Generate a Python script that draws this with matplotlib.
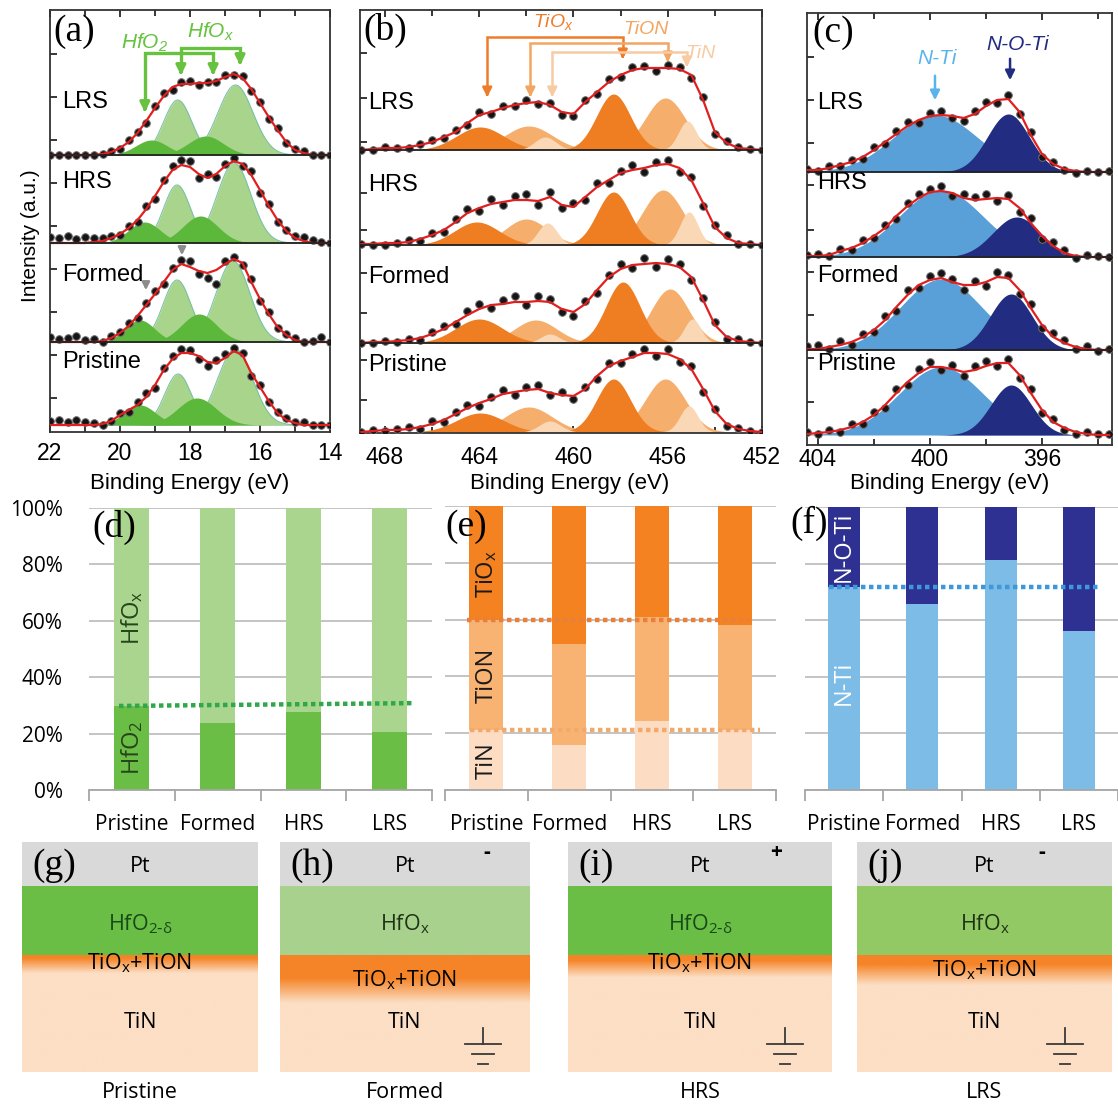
import numpy as np
import matplotlib
matplotlib.use('Agg')
import matplotlib.pyplot as plt

plt.rcParams['mathtext.default'] = 'regular'
plt.rcParams['font.family'] = ['Liberation Sans', 'DejaVu Sans']

SANS = 'Liberation Sans'
CAL = ['Open Sans', 'DejaVu Sans']
SERIF = 'Liberation Serif'

W, H = 1118, 1104

# ---------------- XPS data (heights in a.u. above each spectrum's baseline) ----------------
states_xps = ['LRS', 'HRS', 'Formed', 'Pristine']

# (a) Hf 4f
E_hf = [22.0, 21.75, 21.5, 21.25, 21.0, 20.75, 20.5, 20.25, 20.0, 19.75, 19.5, 19.25, 19.0,
        18.75, 18.5, 18.25, 18.0, 17.75, 17.5, 17.25, 17.0, 16.75, 16.5, 16.25, 16.0, 15.75,
        15.5, 15.25, 15.0, 14.75, 14.5, 14.25, 14.0]
hf_lrs = [0, 0, 0, 0, 0, 0, 1, 3, 7, 13, 22, 34, 47, 59, 68, 71, 71, 72, 72, 74, 78, 81, 77, 66, 52, 38, 25, 13, 5, 2, 0, 0, 0]
hf_hrs = [0, 0, 0, 0, 0, 1, 2, 5, 9, 15, 23, 34, 47, 61, 73, 78, 76, 69, 65, 69, 77, 82, 79, 68, 53, 37, 23, 12, 5, 2, 0, 0, 0]
hf_formed = [0, 0, 0, 0, 0, 0, 1, 4, 9, 16, 26, 37, 48, 60, 72, 78, 75, 71, 69, 72, 78, 83, 79, 60, 43, 28, 15, 7, 2, 0, 0, 0, 0]
hf_pristine = [0, 0, 0, 0, 0, 0, 1, 4, 10, 15, 20, 28, 40, 55, 66, 72, 72, 69, 63, 62, 67, 74, 70, 52, 38, 24, 12, 5, 2, 0, 0, 0, 0]
hf_lrs_dev = [0, 0, 0, 0, 0, 0, 0, 1, -1, 2, 1, -2, 2, 3, -3, 2, 3, -2, 1, -1, 2, -1, 2, -2, 1, -2, 2, -1, 1, 2, 0, 0, 0]
hf_hrs_dev = [6, 5, 7, 4, 6, 4, 3, 2, -1, 2, -2, 3, -3, 2, 4, 5, 6, -4, 4, -3, 2, 3, -2, 4, -3, 2, -2, 1, 2, 4, 3, 1, 0]
hf_formed_dev = [5, 3, 4, 6, 2, 3, -1, 2, 1, 3, -2, 2, 3, -2, 2, 4, 6, -3, -5, -14, 3, 2, -2, 3, -2, 2, -1, 1, 2, 0, 1, 5, 0]
hf_pristine_dev = [4, 5, 3, 5, 3, 2, -1, 0, 2, -2, 3, 4, -3, 2, 3, 4, 3, -3, -4, 3, 4, 3, 2, -3, 2, -1, 1, 2, 1, 3, 0, 0, 0]
# fitted components: (centre eV, height, sigma)
hfox_lrs = [(18.35, 55, 0.40), (16.70, 70, 0.50)]
hfo2_lrs = [(19.10, 15, 0.45), (17.55, 19, 0.50)]
hfox_hrs = [(18.37, 58, 0.38), (16.74, 80, 0.48)]
hfo2_hrs = [(19.30, 21, 0.45), (17.70, 27, 0.50)]
hfox_formed = [(18.37, 62, 0.40), (16.77, 81, 0.48)]
hfo2_formed = [(19.43, 22, 0.42), (17.74, 28, 0.50)]
hfox_pristine = [(18.34, 51, 0.38), (16.71, 76, 0.50)]
hfo2_pristine = [(19.43, 20, 0.45), (17.80, 27, 0.55)]

# (b) Ti 2p
E_ti = [469.0, 468.5, 468.0, 467.5, 467.0, 466.5, 466.0, 465.5, 465.0, 464.5, 464.0, 463.5,
        463.0, 462.5, 462.0, 461.5, 461.0, 460.5, 460.0, 459.5, 459.0, 458.5, 458.0, 457.5,
        457.0, 456.5, 456.0, 455.5, 455.0, 454.5, 454.0, 453.5, 453.0, 452.5, 452.0]
ti_lrs = [0, 1, 2, 2, 3, 5, 8, 13, 18, 27, 35, 38, 42, 45, 47, 48, 45, 38, 36, 48, 58, 68, 75, 80, 82, 82, 82, 81, 75, 50, 18, 7, 2, 1, 0]
ti_hrs = [1, 1, 2, 2, 3, 6, 10, 15, 23, 32, 37, 41, 43, 45, 45, 44, 48, 40, 38, 48, 58, 65, 72, 75, 77, 80, 81, 77, 65, 42, 18, 7, 2, 1, 0]
ti_formed = [0, 1, 1, 2, 3, 5, 9, 14, 21, 28, 34, 38, 39, 41, 41, 42, 41, 34, 31, 39, 53, 66, 74, 78, 79, 80, 79, 76, 66, 43, 18, 6, 2, 1, 0]
ti_pristine = [0, 1, 2, 2, 3, 5, 8, 12, 18, 24, 29, 33, 38, 40, 42, 43, 39, 37, 36, 43, 56, 66, 71, 75, 79, 79, 78, 73, 63, 43, 21, 8, 3, 1, 0]
ti_lrs_dev = [0, -1, 1, 0, -1, 1, 2, -1, 2, -2, 3, -2, 2, -1, 3, -2, 2, -3, -2, 2, -2, 3, -2, 3, 2, -3, 3, 2, -3, 3, -2, 2, 1, 0, 0]
ti_hrs_dev = [0, -1, -2, 0, 2, -2, 2, -2, 3, 4, -3, 5, -3, 4, 6, -4, 5, -3, 4, -3, 4, -3, 2, 5, -4, 3, 4, -4, 3, -3, 2, 3, -1, 0, 0]
ti_formed_dev = [0, -1, 1, -1, 1, -2, 2, 3, -2, 4, 5, -3, 4, 6, -3, 5, 3, -3, -4, 3, -3, 2, 5, -3, 6, -4, 5, 3, -3, 2, 3, -2, 2, 0, 0]
ti_pristine_dev = [0, 1, -1, 1, 2, -2, 3, -2, 2, 3, -3, 2, 4, -3, 3, 4, -2, 3, -3, 2, -3, 3, -2, 3, 4, -3, 5, -3, 3, -3, 2, -2, 1, 0, 0]
tion_lrs = [(461.9, 24, 1.0), (456.1, 52, 0.85)]
tiox_lrs = [(463.96, 23, 1.0), (458.3, 56, 0.72)]
tin_lrs = [(461.2, 13, 0.45), (455.16, 29, 0.38)]
tion_hrs = [(462.0, 26, 0.9), (456.2, 55, 0.85)]
tiox_hrs = [(464.1, 23, 0.95), (458.3, 53, 0.70)]
tin_hrs = [(461.1, 22, 0.40), (455.1, 33, 0.38)]
tion_formed = [(461.6, 23, 0.9), (455.9, 54, 0.80)]
tiox_formed = [(464.0, 24, 1.0), (457.9, 61, 0.72)]
tin_formed = [(461.0, 9, 0.40), (454.95, 24, 0.35)]
tion_pristine = [(461.9, 25, 1.0), (456.1, 53, 0.85)]
tiox_pristine = [(463.96, 19, 1.0), (458.3, 53, 0.72)]
tin_pristine = [(461.0, 11, 0.45), (455.1, 26, 0.38)]

# (c) N 1s
E_n = [404.4, 404.0, 403.6, 403.2, 402.8, 402.4, 402.0, 401.6, 401.2, 400.8, 400.4, 400.0, 399.6, 399.2,
       398.8, 398.4, 398.0, 397.6, 397.2, 396.8, 396.4, 396.0, 395.6, 395.2, 394.8, 394.4, 394.0, 393.6]
n_lrs = [2, 2, 4, 7, 10, 15, 22, 30, 38, 46, 52, 56, 57, 56, 54, 58, 66, 72, 73, 60, 37, 18, 8, 3, 1, 0, 0, 0]
n_hrs = [1, 1, 2, 6, 9, 14, 21, 29, 41, 51, 59, 65, 66, 64, 59, 57, 58, 59, 58, 49, 34, 21, 11, 4, 1, 0, 0, 0]
n_formed = [1, 1, 3, 5, 8, 13, 20, 30, 43, 55, 65, 70, 72, 68, 65, 65, 68, 73, 72, 60, 42, 25, 13, 7, 3, 1, 0, 0]
n_pristine = [1, 2, 3, 5, 8, 13, 20, 30, 42, 53, 62, 68, 68, 66, 63, 65, 69, 72, 72, 60, 42, 25, 13, 7, 3, 1, 0, 0]
n_lrs_dev = [1, -1, 2, -1, 2, -2, 3, -2, 3, 4, -3, 3, 4, -2, -3, 3, 4, -3, 4, -2, 3, -3, 2, -1, -2, 1, 0, 1]
n_hrs_dev = [1, 2, -1, 2, -2, 3, -2, 3, -3, 3, 4, 3, 5, -3, 4, 3, 5, -3, 4, -4, 5, -3, 4, 3, -2, 2, 1, 0]
n_formed_dev = [3, 4, -2, 4, -3, 3, -2, 4, -4, 5, -3, 4, 5, 3, -5, 4, -4, 5, 3, -4, 4, -3, 4, 3, -2, 3, -1, 1]
n_pristine_dev = [2, -1, 2, -2, 3, -2, 3, -3, 4, -3, 4, 5, -3, 4, -4, 4, 5, -3, 4, -3, 4, -3, 3, -2, -2, 2, 1, 1]
nti_lrs = [(399.8, 57, 1.5)]
noti_lrs = [(397.2, 58, 0.75)]
nti_hrs = [(399.6, 67, 1.5)]
noti_hrs = [(396.9, 40, 0.85)]
nti_formed = [(399.6, 71, 1.45)]
noti_formed = [(397.1, 56, 0.75)]
nti_pristine = [(399.6, 68, 1.5)]
noti_pristine = [(397.1, 50, 0.72)]

# ---------------- composition bars (%) ----------------
bar_states = ['Pristine', 'Formed', 'HRS', 'LRS']
hfo2_pct = [29.8, 23.7, 27.8, 20.4]
hfox_pct = [70.2, 76.3, 72.2, 79.6]
tin_pct = [21.0, 16.0, 24.3, 21.0]
tion_pct = [38.8, 35.5, 36.7, 37.0]
tiox_pct = [40.2, 48.5, 39.0, 42.0]
nti_pct = [71.8, 65.9, 81.4, 56.2]
noti_pct = [28.2, 34.1, 18.6, 43.8]

fig = plt.figure(figsize=(W / 100, H / 100), dpi=100)


def px_axes(l, t, r, b):
    return fig.add_axes([l / W, 1 - b / H, (r - l) / W, (b - t) / H])


def px_text(x, y, s, **kw):
    return fig.text(x / W, 1 - y / H, s, **kw)


def gauss(x, c, h, s):
    return h * np.exp(-0.5 * ((x - c) / s) ** 2)


def draw_xps(ax, E, xlim, ytop, offsets, envs, devs, comps, colors, edges,
             label_x, label_dy, yticks, major, minor, pad):
    Ef = np.linspace(min(xlim), max(xlim), 800)
    for i in range(4):
        off = offsets[i]
        for peaks, col, ec in zip(comps[i], colors, edges):
            for c, h, s in peaks:
                g = gauss(Ef, c, h, s)
                ax.fill_between(Ef, off, off + g, color=col, lw=0, zorder=2)
                if ec:
                    ax.plot(Ef, off + g, color=ec, lw=0.8, zorder=2)
        env = np.array(envs[i], float)
        ax.plot(E, off + env + np.array(devs[i]), 'o', ms=5.5, mfc='#151515',
                mec='#707070', mew=0.7, zorder=3)
        ax.plot(E, off + env, color='#E11F1F', lw=1.6, zorder=4)
        if i < 3:
            ax.axhline(off, color='#222222', lw=1.3, zorder=5)
        ax.text(label_x, off + label_dy[i], states_xps[i], fontsize=17, ha='left',
                va='center', zorder=6)
    ax.set_xlim(*xlim)
    ax.set_ylim(0, ytop)
    ax.set_xticks(major)
    ax.set_xticks(minor, minor=True)
    ax.set_yticks(yticks)
    ax.set_yticklabels([])
    ax.tick_params(which='both', direction='in', top=True, right=False, length=5,
                   width=1.1, labelsize=16.5, pad=pad)
    ax.tick_params(which='minor', length=4)
    for s in ax.spines.values():
        s.set_linewidth(1.3)
        s.set_color('#333333')


def bracket(ax, x0, x1, ybar, tip0, tip1, color, lw):
    ax.plot([x0, x0, x1, x1], [tip0 + 8, ybar, ybar, tip1 + 8], color=color, lw=lw,
            solid_joinstyle='miter', zorder=7)
    for x, t in ((x0, tip0), (x1, tip1)):
        ax.annotate('', xy=(x, t), xytext=(x, t + 10),
                    arrowprops=dict(arrowstyle='-|>', color=color, lw=lw, mutation_scale=14),
                    zorder=7)


# ---------------- (a) ----------------
ax_a = px_axes(50, 10, 330, 432)
draw_xps(ax_a, E_hf, (22, 14), 422, [277, 189, 90, 7],
         [hf_lrs, hf_hrs, hf_formed, hf_pristine],
         [hf_lrs_dev, hf_hrs_dev, hf_formed_dev, hf_pristine_dev],
         [[hfox_lrs, hfo2_lrs], [hfox_hrs, hfo2_hrs], [hfox_formed, hfo2_formed],
          [hfox_pristine, hfo2_pristine]],
         ['#A9D48C', '#5CB83A'], ['#7CC2A6', None], 21.66, [53, 61, 67, 63],
         [34, 77, 120, 163, 206, 249, 292, 335, 378], [22, 20, 18, 16, 14],
         [21, 19, 17, 15], 7)
bracket(ax_a, 19.29, 17.34, 379, 317, 354, '#66C23F', 2.4)
bracket(ax_a, 18.26, 16.57, 384, 354, 364, '#66C23F', 2.4)
ax_a.text(19.3, 389, 'HfO$_2$', color='#66C23F', fontsize=15, style='italic', ha='center', va='center')
ax_a.text(17.4, 400, 'HfO$_x$', color='#66C23F', fontsize=15, style='italic', ha='center', va='center')
for x, y in ((18.23, 174), (19.26, 139)):
    ax_a.annotate('', xy=(x, y), xytext=(x, y + 14),
                  arrowprops=dict(arrowstyle='-|>', color='#8C8C8C', lw=1.8, mutation_scale=11))

# ---------------- (b) ----------------
ax_b = px_axes(360, 10, 762, 433)
draw_xps(ax_b, E_ti, (469.06, 452.0), 423, [283, 188, 90, 1],
         [ti_lrs, ti_hrs, ti_formed, ti_pristine],
         [ti_lrs_dev, ti_hrs_dev, ti_formed_dev, ti_pristine_dev],
         [[tion_lrs, tiox_lrs, tin_lrs], [tion_hrs, tiox_hrs, tin_hrs],
          [tion_formed, tiox_formed, tin_formed], [tion_pristine, tiox_pristine, tin_pristine]],
         ['#F5AE6B', '#EF7D22', '#FAD8B6'], [None, None, None], 468.7, [47, 60, 66, 67],
         [33, 73, 120, 160, 203, 240, 291, 335, 380], [468, 464, 460, 456, 452],
         [466, 462, 458, 454], 9)
bracket(ax_b, 463.66, 457.91, 396, 333, 371, '#EE7D2B', 1.8)
bracket(ax_b, 461.83, 456.0, 390, 333, 368, '#F2A662', 1.8)
bracket(ax_b, 460.9, 455.19, 381, 333, 363, '#F7CBA3', 1.8)
ax_b.text(460.85, 411, 'TiO$_x$', color='#EE7D2B', fontsize=14, style='italic', ha='center', va='center')
ax_b.text(456.94, 403, 'TiON', color='#F2A662', fontsize=14, style='italic', ha='center', va='center')
ax_b.text(454.6, 380, 'TiN', color='#F7CBA3', fontsize=14, style='italic', ha='center', va='center')

# ---------------- (c) ----------------
ax_c = px_axes(807, 13, 1112, 445)
draw_xps(ax_c, E_n, (404.39, 393.5), 432, [273, 188, 95, 10],
         [n_lrs, n_hrs, n_formed, n_pristine],
         [n_lrs_dev, n_hrs_dev, n_formed_dev, n_pristine_dev],
         [[nti_lrs, noti_lrs], [nti_hrs, noti_hrs], [nti_formed, noti_formed],
          [nti_pristine, noti_pristine]],
         ['#5AA0D8', '#222C80'], [None, None], 404.04, [69, 74, 74, 71],
         [43, 87, 130, 173, 215, 260, 302, 345, 388], [404, 400, 396],
         [402, 398, 394], 2)
ax_c.annotate('', xy=(399.82, 342), xytext=(399.82, 372),
              arrowprops=dict(arrowstyle='-|>', color='#5AB4EA', lw=1.8, mutation_scale=14))
ax_c.annotate('', xy=(397.14, 362), xytext=(397.14, 389),
              arrowprops=dict(arrowstyle='-|>', color='#222C80', lw=1.8, mutation_scale=14))
ax_c.text(399.75, 387, 'N-Ti', color='#5AB4EA', fontsize=15, style='italic', ha='center', va='center')
ax_c.text(396.86, 400, 'N-O-Ti', color='#222C80', fontsize=15, style='italic', ha='center', va='center')

px_text(30, 236, 'Intensity (a.u.)', rotation=90, fontsize=15, ha='center', va='center')
for xc in (190, 570, 950):
    px_text(xc, 484, 'Binding Energy (eV)', fontsize=16, ha='center', va='center')
for lab, x, y in (('(a)', 53, 32), ('(b)', 363, 30), ('(c)', 812, 33)):
    px_text(x, y, lab, family=SERIF, fontsize=27, ha='left', va='center')


# ---------------- (d)-(f) bars ----------------
def draw_bars(ax, layers, colors, xlim, show_y):
    x = np.arange(len(bar_states))
    bottom = np.zeros(len(bar_states))
    for vals, col in zip(layers, colors):
        ax.bar(x, vals, width=0.41, bottom=bottom, color=col, lw=0, zorder=2)
        bottom = bottom + np.array(vals)
    ax.set_xlim(*xlim)
    ax.set_ylim(0, 100)
    ax.set_yticks([0, 20, 40, 60, 80, 100])
    if show_y:
        ax.set_yticklabels(['0%', '20%', '40%', '60%', '80%', '100%'], family=CAL, fontsize=15)
    else:
        ax.set_yticklabels([])
    ax.yaxis.grid(True, color='#BFBFBF', lw=1.3, zorder=0)
    ax.set_axisbelow(True)
    for s in ('top', 'right', 'left'):
        ax.spines[s].set_visible(False)
    ax.spines['bottom'].set_color('#A6A6A6')
    ax.spines['bottom'].set_linewidth(1.3)
    ax.set_xticks(x)
    ax.set_xticklabels(bar_states, family=CAL, fontsize=15)
    ax.set_xticks(np.arange(-0.5, 4, 1), minor=True)
    ax.tick_params(axis='x', which='major', length=0, pad=17)
    ax.tick_params(axis='x', which='minor', length=8, color='#A6A6A6', width=1.3)
    ax.tick_params(axis='y', length=0, pad=19)


dotted = dict(lw=3.2, dashes=(1, 0.8), dash_capstyle='butt', zorder=4)

ax_d = px_axes(89, 508, 432, 790)
draw_bars(ax_d, [hfo2_pct, hfox_pct], ['#6ABD45', '#A9D58F'], (-0.5, 3.5), True)
ax_d.plot([-0.15, 3.28], [hfo2_pct[0], hfo2_pct[0] + 1], color='#2EA84A', **dotted)
ax_d.text(0, 61, 'HfO$_x$', rotation=90, family=CAL, fontsize=17, color='#27451B', ha='center', va='center')
ax_d.text(0, 15, 'HfO$_2$', rotation=90, family=CAL, fontsize=17, color='#27451B', ha='center', va='center')

ax_e = px_axes(445, 506, 776, 790)
draw_bars(ax_e, [tin_pct, tion_pct, tiox_pct], ['#FCDDC3', '#F8B272', '#F58220'], (-0.5, 3.5), False)
ax_e.plot([-0.23, 3.19], [tin_pct[0] + tion_pct[0]] * 2, color='#E9803A', **dotted)
ax_e.plot([-0.2, 3.31], [tin_pct[0]] * 2, color='#F2AA6C', **dotted)
ax_e.text(0, 76, 'TiO$_x$', rotation=90, family=CAL, fontsize=17, color='#1a1a1a', ha='center', va='center')
ax_e.text(0, 40.5, 'TiON', rotation=90, family=CAL, fontsize=17, color='#1a1a1a', ha='center', va='center')
ax_e.text(0, 10.5, 'TiN', rotation=90, family=CAL, fontsize=17, color='#1a1a1a', ha='center', va='center')

ax_f = px_axes(805, 507, 1118, 790)
draw_bars(ax_f, [nti_pct, noti_pct], ['#7DBCE6', '#2E3192'], (-0.5, 3.41), False)
ax_f.plot([-0.19, 3.28], [nti_pct[0]] * 2, color='#3A98DB', **dotted)
ax_f.text(0, 86, 'N-O-Ti', rotation=90, family=CAL, fontsize=17, color='white', ha='center', va='center')
ax_f.text(0, 38, 'N-Ti', rotation=90, family=CAL, fontsize=17, color='white', ha='center', va='center')

for lab, x, y in (('(d)', 92, 527), ('(e)', 445, 527), ('(f)', 790, 523)):
    px_text(x, y, lab, family=SERIF, fontsize=27, ha='left', va='center')

# ---------------- (g)-(j) device schematics ----------------
sch_left = [22, 280, 568, 857]
sch_right = [258, 530, 832, 1112]
sch_oxide = ['#6ABD45', '#A9D18E', '#6ABD45', '#92C964']
sch_oxide_label = [r'HfO$_{2\text{-}\delta}$', 'HfO$_x$', r'HfO$_{2\text{-}\delta}$', 'HfO$_x$']
sch_oxide_text = ['#184A18', '#1E3314', '#184A18', '#1E3314']
sch_fade = [(958, 973), (978, 1003), (960, 977), (964, 985)]
sch_ti_y = [963, 980, 963, 970]
sch_sign = ['', '-', '+', '-']
sch_sign_dx = [0, 43, 56, 70]
sch_caption = ['Pristine', 'Formed', 'HRS', 'LRS']
sch_tag = ['(g)', '(h)', '(i)', '(j)']

ax_s = px_axes(0, 835, W, H)
ax_s.set_xlim(0, W)
ax_s.set_ylim(H, 835)
ax_s.axis('off')
orange = np.array([245, 132, 40]) / 255
peach = np.array([252, 223, 197]) / 255
ys = np.linspace(955, 1072, 240)
for i in range(4):
    l, r = sch_left[i], sch_right[i]
    cx = (l + r) / 2
    ax_s.fill_between([l, r], 842, 886, color='#D9D9D9', lw=0)
    ax_s.fill_between([l, r], 886, 955, color=sch_oxide[i], lw=0)
    t = np.clip((ys - sch_fade[i][0]) / (sch_fade[i][1] - sch_fade[i][0]), 0, 1)[:, None]
    grad = (orange * (1 - t) + peach * t)[:, None, :]
    ax_s.imshow(grad, extent=(l, r, 1072, 955), aspect='auto', interpolation='bilinear', zorder=1)
    ax_s.text(cx, 866, 'Pt', family=CAL, fontsize=15.5, ha='center', va='center', zorder=3)
    ax_s.text(cx, 924, sch_oxide_label[i], family=CAL, fontsize=15.5, ha='center', va='center',
              color=sch_oxide_text[i], zorder=3)
    ax_s.text(cx, sch_ti_y[i], 'TiO$_x$+TiON', family=CAL, fontsize=15.5, ha='center', va='center', zorder=3)
    ax_s.text(cx, 1022, 'TiN', family=CAL, fontsize=15.5, ha='center', va='center', zorder=3)
    ax_s.text(cx, 1092, sch_caption[i], family=CAL, fontsize=15.5, ha='center', va='center', zorder=3)
    ax_s.text(l + 10, 866, sch_tag[i], family=SERIF, fontsize=27, ha='left', va='center', zorder=3)
    if sch_sign[i]:
        ax_s.text(r - sch_sign_dx[i], 852, sch_sign[i], family=CAL, fontsize=15, fontweight='bold',
                  ha='center', va='center', zorder=3)
        gx = r - 47
        ax_s.plot([gx, gx], [1028, 1044], color='#3a3a3a', lw=1.3, zorder=3)
        for y, hw in ((1044, 18), (1054, 11), (1064, 5)):
            ax_s.plot([gx - hw, gx + hw], [y, y], color='#3a3a3a', lw=1.3, zorder=3)

fig.savefig('out.png', dpi=100)
